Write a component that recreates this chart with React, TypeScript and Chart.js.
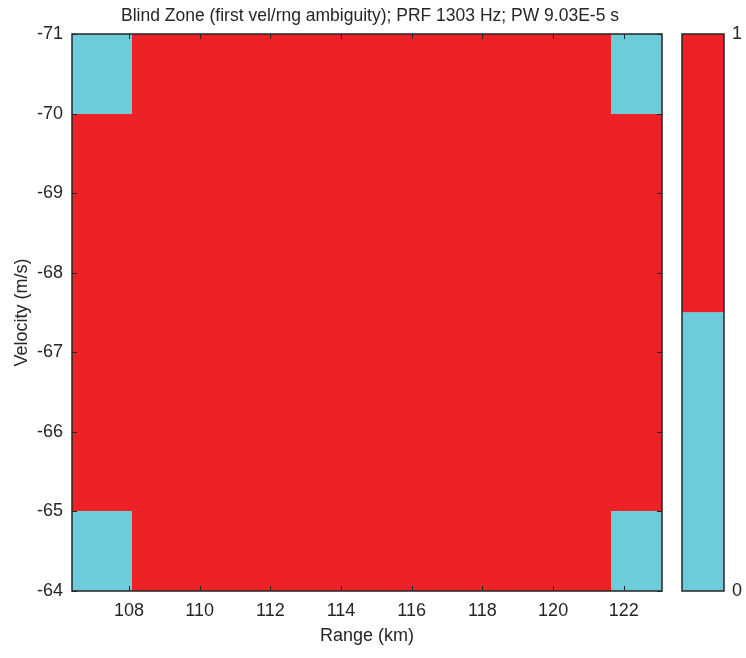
import { useEffect, useRef } from 'react';
import { Chart, registerables } from 'chart.js';

Chart.register(...registerables);

// Cell boundaries of the blind-zone map
const rangeEdgesKm = [106.39, 108.09, 121.63, 123.08];
const velocityEdgesMs = [-71, -70, -65, -64];
// Rows follow velocity, columns follow range (0 = clear, 1 = blind)
const ambiguityGrid = [
  [0, 1, 0],
  [1, 1, 1],
  [0, 1, 0],
];

const rangeTicks = [108, 110, 112, 114, 116, 118, 120, 122];
const velocityTicks = [-71, -70, -69, -68, -67, -66, -65, -64];
const colorbarTicks = [0, 1];
const colorbarStops = [0, 0.5, 1];

const titleText = 'Blind Zone (first vel/rng ambiguity); PRF 1303 Hz; PW 9.03E-5 s';
const xLabel = 'Range (km)';
const yLabel = 'Velocity (m/s)';

const CYAN = '#6DCCDC';
const RED = '#EC2227';
const palette = [CYAN, RED];
const INK = '#262626';
const FAMILY = '"Liberation Sans", Arial, Helvetica, sans-serif';
const FONT_SIZE = 18;
const TITLE_SIZE = 17.5;

const W = 746;
const H = 658;
const AREA = { left: 72, right: 662, top: 34, bottom: 591 };
const CB = { left: 682, right: 724 };

const font = { family: FAMILY, size: FONT_SIZE };

const drawBox = (chart: any) => {
  const { ctx, chartArea: a } = chart;
  ctx.save();
  ctx.strokeStyle = INK;
  ctx.lineWidth = 1.5;
  ctx.strokeRect(a.left, a.top, a.right - a.left, a.bottom - a.top);
  ctx.restore();
};

const heatmapPlugin = {
  id: 'heatmap',
  beforeDatasetsDraw(chart: any) {
    const { ctx, scales } = chart;
    const x = scales.x;
    const y = scales.y;
    ctx.save();
    ambiguityGrid.forEach((row, r) => {
      row.forEach((v, c) => {
        const x0 = Math.round(x.getPixelForValue(rangeEdgesKm[c]));
        const x1 = Math.round(x.getPixelForValue(rangeEdgesKm[c + 1]));
        const y0 = Math.round(y.getPixelForValue(velocityEdgesMs[r]));
        const y1 = Math.round(y.getPixelForValue(velocityEdgesMs[r + 1]));
        ctx.fillStyle = palette[v];
        ctx.fillRect(Math.min(x0, x1), Math.min(y0, y1), Math.abs(x1 - x0), Math.abs(y1 - y0));
      });
    });
    ctx.restore();
  },
  afterDraw(chart: any) {
    const { ctx, chartArea: a, scales } = chart;
    const x = scales.x;
    const y = scales.y;
    drawBox(chart);
    ctx.save();
    ctx.strokeStyle = INK;
    ctx.lineWidth = 1;
    const len = 5;
    ctx.beginPath();
    rangeTicks.forEach((v) => {
      const px = Math.round(x.getPixelForValue(v)) + 0.5;
      ctx.moveTo(px, a.bottom);
      ctx.lineTo(px, a.bottom - len);
      ctx.moveTo(px, a.top);
      ctx.lineTo(px, a.top + len);
    });
    velocityTicks.forEach((v) => {
      const py = Math.round(y.getPixelForValue(v)) + 0.5;
      ctx.moveTo(a.left, py);
      ctx.lineTo(a.left + len, py);
      ctx.moveTo(a.right, py);
      ctx.lineTo(a.right - len, py);
    });
    ctx.stroke();
    // Title centred over the plot
    ctx.fillStyle = INK;
    ctx.font = `${TITLE_SIZE}px ${FAMILY}`;
    ctx.textAlign = 'center';
    ctx.textBaseline = 'middle';
    ctx.fillText(titleText, (a.left + a.right) / 2 + 3, 16);
    ctx.restore();
  },
};

const colorbarPlugin = {
  id: 'colorbarBox',
  afterDraw(chart: any) {
    drawBox(chart);
  },
};

export default function App() {
  const mainRef = useRef<HTMLCanvasElement | null>(null);
  const cbRef = useRef<HTMLCanvasElement | null>(null);

  useEffect(() => {
    if (!mainRef.current || !cbRef.current) return;

    const main = new Chart(mainRef.current, {
      type: 'scatter',
      data: { datasets: [] },
      options: {
        animation: false,
        responsive: false,
        maintainAspectRatio: false,
        layout: { padding: { left: 0, right: W - AREA.right, top: AREA.top, bottom: 0 } },
        plugins: { legend: { display: false }, tooltip: { enabled: false } },
        scales: {
          x: {
            type: 'linear',
            position: 'bottom',
            min: rangeEdgesKm[0],
            max: rangeEdgesKm[rangeEdgesKm.length - 1],
            afterBuildTicks: (s: any) => {
              s.ticks = rangeTicks.map((v) => ({ value: v }));
            },
            afterFit: (s: any) => {
              s.height = H - AREA.bottom;
            },
            grid: { display: false, drawTicks: false },
            border: { display: false },
            ticks: {
              font,
              color: INK,
              padding: 9,
              maxRotation: 0,
              autoSkip: false,
              callback: (v: any) => String(v),
            },
            title: {
              display: true,
              text: xLabel,
              font,
              color: INK,
              padding: { top: 0, bottom: 11 },
            },
          },
          y: {
            type: 'linear',
            position: 'left',
            reverse: true,
            min: velocityEdgesMs[0],
            max: velocityEdgesMs[velocityEdgesMs.length - 1],
            afterBuildTicks: (s: any) => {
              s.ticks = velocityTicks.map((v) => ({ value: v }));
            },
            afterFit: (s: any) => {
              s.width = AREA.left;
            },
            grid: { display: false, drawTicks: false },
            border: { display: false },
            ticks: {
              font,
              color: INK,
              padding: 9,
              autoSkip: false,
              callback: (v: any) => String(v),
            },
            title: {
              display: true,
              text: yLabel,
              font,
              color: INK,
              padding: { top: 11, bottom: 0 },
            },
          },
        },
      },
      plugins: [heatmapPlugin],
    } as any);

    const colorbar = new Chart(cbRef.current, {
      type: 'bar',
      data: {
        labels: [''],
        datasets: palette.map((c, i) => ({
          data: [[colorbarStops[i], colorbarStops[i + 1]]],
          backgroundColor: c,
          borderWidth: 0,
          grouped: false,
          barPercentage: 1,
          categoryPercentage: 1,
        })),
      },
      options: {
        animation: false,
        responsive: false,
        maintainAspectRatio: false,
        layout: { padding: { left: CB.left, right: 0, top: AREA.top, bottom: H - AREA.bottom } },
        plugins: { legend: { display: false }, tooltip: { enabled: false } },
        scales: {
          x: { display: false },
          y: {
            position: 'right',
            min: 0,
            max: 1,
            afterBuildTicks: (s: any) => {
              s.ticks = colorbarTicks.map((v) => ({ value: v }));
            },
            afterFit: (s: any) => {
              s.width = W - CB.right;
            },
            grid: { display: false, drawTicks: false },
            border: { display: false },
            ticks: { font, color: INK, padding: 8, callback: (v: any) => String(v) },
          },
        },
      },
      plugins: [colorbarPlugin],
    } as any);

    return () => {
      main.destroy();
      colorbar.destroy();
    };
  }, []);

  return (
    <div style={{ position: 'absolute', left: 0, top: 0, width: W, height: H, background: '#ffffff' }}>
      <canvas
        ref={mainRef}
        width={W}
        height={H}
        style={{ position: 'absolute', left: 0, top: 0, width: W, height: H }}
      />
      <canvas
        ref={cbRef}
        width={W}
        height={H}
        style={{ position: 'absolute', left: 0, top: 0, width: W, height: H }}
      />
    </div>
  );
}
